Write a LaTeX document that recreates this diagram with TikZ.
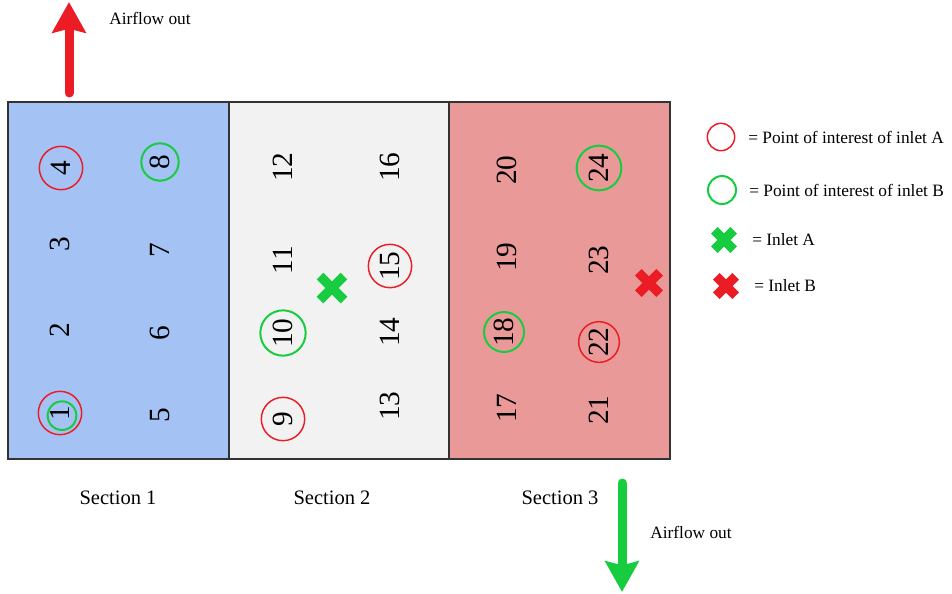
\documentclass[tikz,border=0pt]{standalone}
\usepackage{fontspec}
\setmainfont{Liberation Serif}
\usetikzlibrary{arrows.meta,shapes.misc}
\definecolor{secA}{HTML}{A4C2F4}
\definecolor{secB}{HTML}{F2F2F2}
\definecolor{secC}{HTML}{EA9999}
\definecolor{frame}{HTML}{333333}
\definecolor{myred}{RGB}{235,28,36}
\definecolor{mygreen}{RGB}{24,204,64}
\begin{document}
\begin{tikzpicture}[x=0.75pt,y=-0.75pt,
 num/.style={rotate=90,font=\fontsize{22}{22}\selectfont,inner sep=0pt},
 ringA/.style={circle,draw=myred,line width=1.1pt,minimum size=#1,inner sep=0pt},
 ringB/.style={circle,draw=mygreen,line width=1.5pt,minimum size=#1,inner sep=0pt},
 xmark/.style={cross out,draw=#1,line width=7pt,minimum size=16pt,inner sep=0pt,outer sep=0pt},
 lbl/.style={font=\fontsize{13}{13}\selectfont,inner sep=0pt},
 seclbl/.style={font=\fontsize{15.4}{15.4}\selectfont,inner sep=0pt},
 secbox/.style={draw=frame,line width=0.9pt},
 flow/.style={line width=6.75pt,line cap=round,-{Stealth[length=23pt,width=25pt,inset=3pt]}}
]
\useasboundingbox (0,0) rectangle (952,593);
% sections
\path[secbox,fill=secA] (8,102) rectangle (229,459);
\path[secbox,fill=secB] (229,102) rectangle (449,459);
\path[secbox,fill=secC] (449,102) rectangle (670,459);
% numbers section 1
\node[num] (n1) at (60,413) {1};
\node[num] (n2) at (60,330) {2};
\node[num] (n3) at (60,244) {3};
\node[num] (n4) at (61,168) {4};
\node[num] (n5) at (160,415) {5};
\node[num] (n6) at (160,333) {6};
\node[num] (n7) at (160,250) {7};
\node[num] (n8) at (160,162) {8};
% section 2
\node[num] (n9) at (283,419) {9};
\node[num] (n10) at (283,333) {10};
\node[num] (n11) at (283,260) {11};
\node[num] (n12) at (283,167) {12};
\node[num] (n13) at (390,406) {13};
\node[num] (n14) at (390,332) {14};
\node[num] (n15) at (390,266) {15};
\node[num] (n16) at (390,167) {16};
% section 3
\node[num] (n17) at (507,408) {17};
\node[num] (n18) at (504,332) {18};
\node[num] (n19) at (507,257) {19};
\node[num] (n20) at (507,170) {20};
\node[num] (n21) at (599,410) {21};
\node[num] (n22) at (599,342) {22};
\node[num] (n23) at (599,260) {23};
\node[num] (n24) at (599,168) {24};
% rings
\node[ringA=32.5pt] (r4) at (n4) {};
\node[ringB=28pt] (g8) at (n8) {};
\node[ringA=32.5pt] (r1) at (n1) {};
\node[ringB=21.5pt] (g1) at ([xshift=1.5pt,yshift=-2pt]n1) {};
\node[ringA=32.5pt] (r9) at (n9) {};
\node[ringB=34pt] (g10) at (n10) {};
\node[ringA=32.5pt] (r15) at (n15) {};
\node[ringB=30pt] (g18) at (n18) {};
\node[ringA=30.5pt] (r22) at (n22) {};
\node[ringB=33.5pt] (g24) at (n24) {};
% inlets
\node[xmark=mygreen,minimum size=18pt] (xa) at (332,288) {};
\node[xmark=myred,minimum size=16pt] (xb) at (649,283) {};
% section labels
\node[seclbl] (sl1) at (118,498) {Section 1};
\node[seclbl] (sl2) at (332,498) {Section 2};
\node[seclbl] (sl3) at (560,498) {Section 3};
% airflow arrows
\coordinate (upS) at (69,93);
\coordinate (upT) at (69,2);
\draw[flow,myred] (upS) -- (upT);
\node[lbl] (af1) at (150,18) {Airflow out};
\coordinate (dnS) at (622,483);
\coordinate (dnT) at (622,592);
\draw[flow,mygreen] (dnS) -- (dnT);
\node[lbl] (af2) at (691,532) {Airflow out};
% legend
\node[ringA=20.5pt] (lgA) at (721,137) {};
\node[ringB=21pt] (lgB) at (722,190) {};
\node[xmark=mygreen,minimum size=14.5pt] (lgXA) at (724,240) {};
\node[xmark=myred,minimum size=14.5pt] (lgXB) at (726,286) {};
\node[lbl,anchor=west] (tA) at (748,137) {= Point of interest of inlet A};
\node[lbl,anchor=west] (tB) at (749,190) {= Point of interest of inlet B};
\node[lbl,anchor=west] (tXA) at (752,240) {= Inlet A};
\node[lbl,anchor=west] (tXB) at (754,286) {= Inlet B};
\end{tikzpicture}
\end{document}
